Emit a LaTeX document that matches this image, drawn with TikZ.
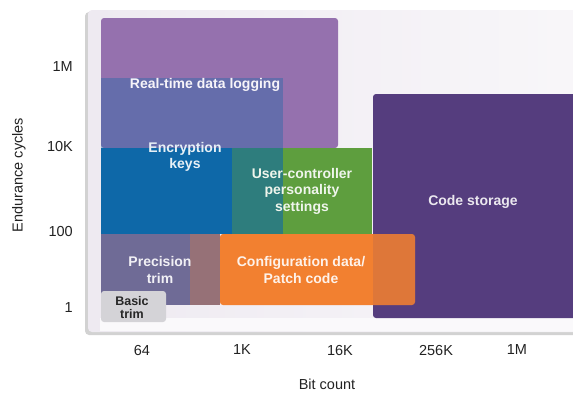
\documentclass[tikz,border=0pt]{standalone}
\usepackage{fontspec}
\setmainfont{Liberation Sans}
\definecolor{panelbg}{HTML}{EEEAF1}
\definecolor{logc}{HTML}{9571AE}
\definecolor{encc}{HTML}{0E68A8}
\definecolor{usrc}{HTML}{5E9E3E}
\definecolor{prec}{HTML}{6F6B96}
\definecolor{cfgc}{HTML}{F28030}
\definecolor{codec}{HTML}{553D7E}
\definecolor{basc}{HTML}{D4D3D7}
\definecolor{tickc}{HTML}{222222}
\tikzset{
  lbl/.style={font=\bfseries\fontsize{14}{16.5}\selectfont, text=white, align=center, inner sep=0pt},
  tick/.style={font=\fontsize{14.5}{16}\selectfont, text=tickc, inner sep=0pt},
  axlbl/.style={font=\fontsize{14.5}{16}\selectfont, text=tickc, inner sep=0pt}
}
\begin{document}
\begin{tikzpicture}[x=1pt,y=-1pt]
\useasboundingbox (0,0) rectangle (573,392);
% panel
\fill[gray!35, rounded corners=4pt] (85,12) rectangle (580,335);
\shade[left color=panelbg, right color=white!60!panelbg, rounded corners=4pt] (88,10) rectangle (580,332);
\fill[white!70!panelbg] (100,318) rectangle (580,331);
% regions
\fill[logc, rounded corners=3pt] (101,18) rectangle (338,148);
\fill[encc] (101,148) rectangle (283,234);
\fill[encc, opacity=0.35] (101,78) rectangle (283,148);
\fill[usrc] (232,148) rectangle (372,234);
\fill[encc, opacity=0.6] (232,148) rectangle (283,234);
\fill[codec, rounded corners=3pt] (373,94) rectangle (580,318);
\fill[prec] (101,234) rectangle (220,305);
\fill[cfgc, rounded corners=3pt] (220,234) rectangle (415,305);
\fill[cfgc, opacity=0.3] (190,234) rectangle (220,305);
\fill[codec, opacity=0.12] (373,234) rectangle (415,305);
\fill[basc, rounded corners=3pt] (101,291) rectangle (166,322);
% labels
\node[lbl, text=white!92!logc] (log) at (205,85) {Real-time data logging};
\node[lbl, text=white!90!encc] (enc) at (185,157) {Encryption\\keys};
\node[lbl, text=white!90!usrc] (usr) at (302,191) {User-controller\\personality\\settings};
\node[lbl, text=white!88!codec] (code) at (473,202) {Code storage};
\node[lbl, text=white!90!prec] (pre) at (160,270) {Precision\\trim};
\node[lbl, text=white!90!cfgc] (cfg) at (301,270) {Configuration data/\\Patch code};
\node[lbl, text=black!85, font=\bfseries\fontsize{12.5}{13}\selectfont] (bas) at (132,308) {Basic\\trim};
% ticks
\node[tick, anchor=east] (y1M) at (73,67) {1M};
\node[tick, anchor=east] (y10K) at (73,147) {10K};
\node[tick, anchor=east] (y100) at (73,232) {100};
\node[tick, anchor=east] (y1) at (73,308) {1};
\node[tick] (x64) at (142,350) {64};
\node[tick] (x1K) at (242,350) {1K};
\node[tick] (x16K) at (340,350) {16K};
\node[tick] (x256K) at (436,350) {256K};
\node[tick] (x1Mb) at (517,350) {1M};
\node[axlbl] (xl) at (327,384) {Bit count};
\node[axlbl, rotate=90] (yl) at (19,175) {Endurance cycles};
\end{tikzpicture}
\end{document}
